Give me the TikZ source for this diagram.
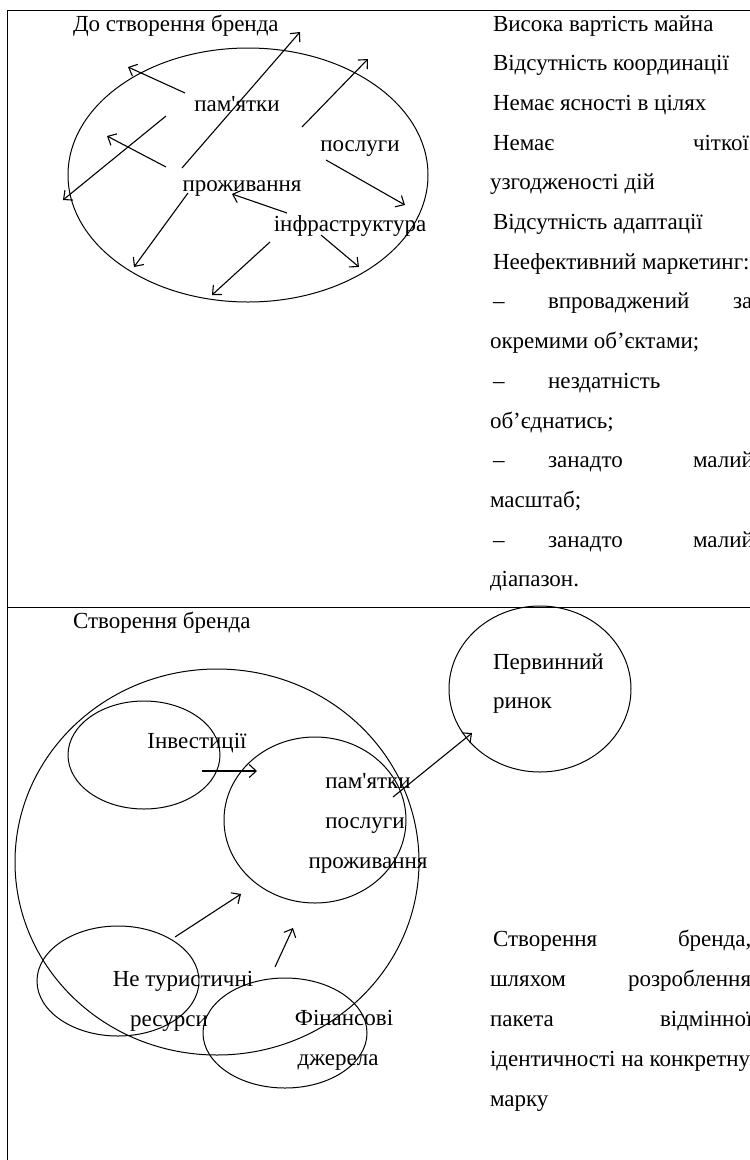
\documentclass[tikz,border=0pt]{standalone}
\usepackage{fontspec}
\setmainfont{Liberation Serif}[Ligatures=TeXOff]
\usetikzlibrary{shapes.geometric,arrows.meta}
\newcommand\fsz{\fontsize{23}{28}\selectfont}
\tikzset{
 lbl/.style={inner sep=0pt, outer sep=0pt, font=\fsz, anchor=base},
 txt/.style={inner sep=0pt, outer sep=0pt, font=\fsz, anchor=base west},
 oval/.style={draw, ellipse, inner sep=0pt, line width=1pt},
 arr/.style={-{Straight Barb[length=7pt,width=13pt]}, line width=1.1pt},
 rule/.style={line width=1pt}
}
\begin{document}
\begin{tikzpicture}[x=1pt,y=-1pt]
\useasboundingbox (0,0) rectangle (750,1160);
\clip (0,0) rectangle (750,1160);
% table
\coordinate (tl) at (7,10);
\coordinate (tr) at (770,10);
\coordinate (bl) at (7,1180);
\coordinate (ml) at (7,607);
\coordinate (mr) at (770,607);
\draw[rule] (tr) -- (tl) -- (bl);
\draw[rule] (ml) -- (mr);

% ---------- top section ----------
\node[txt] (title1) at (73,31) {До створення бренда};
\node[oval, minimum width=360pt, minimum height=254pt] (big1) at (248,175) {};
\node[lbl] (p1) at (237,111) {пам'ятки};
\node[lbl] (s1) at (360,151) {послуги};
\node[lbl] (z1) at (242,191) {проживання};
\node[lbl] (i1) at (350,231) {інфраструктура};

\coordinate (a1s) at (185,93);  \coordinate (a1e) at (128,67);
\coordinate (a2s) at (166,116); \coordinate (a2e) at (63,200);
\coordinate (a3s) at (182,168); \coordinate (a3e) at (300,32);
\coordinate (a4s) at (302,127); \coordinate (a4e) at (368,59);
\coordinate (a5s) at (166,167); \coordinate (a5e) at (107,136);
\coordinate (a6s) at (326,160); \coordinate (a6e) at (405,205);
\coordinate (a7s) at (287,213); \coordinate (a7e) at (232,194);
\coordinate (a8s) at (188,193); \coordinate (a8e) at (134,267);
\coordinate (a9s) at (270,242); \coordinate (a9e) at (212,295);
\coordinate (a10s) at (321,235); \coordinate (a10e) at (359,267);
\foreach \k in {1,...,10} {\draw[arr] (a\k s) -- (a\k e);}

% right column top
\node[txt] (r0) at (493,31) {Висока вартість майна};
\node[txt] (r1) at (493,70.7) {Відсутність координації};
\node[txt] (r2) at (493,110.4) {Немає ясності в цілях};
\node[txt] (r3a) at (493,150.1) {Немає};
\node[txt] (r3b) at (693,150.1) {чіткої};
\node[txt] (r4) at (490,189.8) {узгодженості дій};
\node[txt] (r5) at (493,229.5) {Відсутність адаптації};
\node[txt] (r6) at (493,269.2) {Неефективний маркетинг:};
\node[txt] (r7a) at (493,308.9) {–};
\node[txt] (r7b) at (548,308.9) {впроваджений};
\node[txt] (r7c) at (733,308.9) {за};
\node[txt] (r8) at (490,348.6) {окремими об’єктами;};
\node[txt] (r9a) at (493,388.3) {–};
\node[txt] (r9b) at (548,388.3) {нездатність};
\node[txt] (r10) at (490,428) {об’єднатись;};
\node[txt] (r11a) at (493,467.7) {–};
\node[txt] (r11b) at (548,467.7) {занадто};
\node[txt] (r11c) at (693,467.7) {малий};
\node[txt] (r12) at (490,507.4) {масштаб;};
\node[txt] (r13a) at (493,547.1) {–};
\node[txt] (r13b) at (548,547.1) {занадто};
\node[txt] (r13c) at (693,547.1) {малий};
\node[txt] (r14) at (490,586.8) {діапазон.};

% ---------- bottom section ----------
\node[txt] (title2) at (73,628) {Створення бренда};
\node[oval, minimum width=404pt, minimum height=386pt] (big2) at (217,862) {};
\node[oval, minimum width=152pt, minimum height=108pt] (inv) at (144,755) {};
\node[oval, minimum width=182pt, minimum height=166pt] (core) at (315,820) {};
\node[oval, minimum width=182pt, minimum height=166pt] (mkt) at (540,689) {};
\node[oval, minimum width=162pt, minimum height=110pt] (res) at (118,981) {};
\node[oval, minimum width=164pt, minimum height=110pt] (fin) at (285,1033) {};

\node[lbl] (invt) at (197,748) {Інвестиції};
\node[lbl] (p2) at (368,788) {пам'ятки};
\node[lbl] (s2) at (365,828) {послуги};
\node[lbl] (z2) at (368,868) {проживання};
\node[txt] (mk1) at (493,669) {Первинний};
\node[txt] (mk2) at (493,708) {ринок};
\node[lbl] (res1) at (183,986) {Не туристичні};
\node[lbl] (res2) at (169,1026) {ресурси};
\node[lbl] (fin1) at (344,1025) {Фінансові};
\node[lbl] (fin2) at (338,1065) {джерела};

\coordinate (b1s) at (202,771); \coordinate (b1e) at (257,771);
\coordinate (b2s) at (393,797); \coordinate (b2e) at (472,733);
\coordinate (b3s) at (175,937); \coordinate (b3e) at (241,894);
\coordinate (b4s) at (275,967); \coordinate (b4e) at (293,928);
\foreach \k in {1,...,4} {\draw[arr] (b\k s) -- (b\k e);}

% right column bottom
\node[txt] (q0a) at (493,946) {Створення};
\node[txt] (q0b) at (678,946) {бренда,};
\node[txt] (q1a) at (490,986) {шляхом};
\node[txt] (q1b) at (628,986) {розроблення};
\node[txt] (q2a) at (490,1026) {пакета};
\node[txt] (q2b) at (660,1026) {відмінної};
\node[txt] (q3) at (490,1066) {ідентичності на конкретну};
\node[txt] (q4) at (490,1106) {марку};
\end{tikzpicture}
\end{document}
